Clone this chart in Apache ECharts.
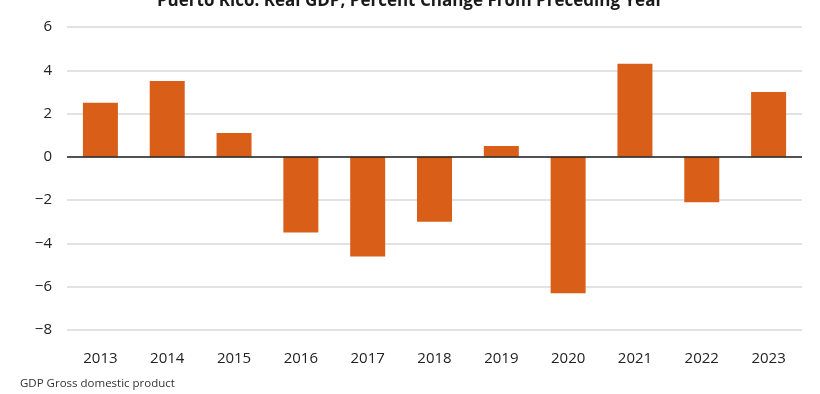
<!DOCTYPE html>
<html>
<head>
<meta charset="utf-8">
<script src="https://cdn.jsdelivr.net/npm/echarts@6/dist/echarts.min.js"></script>
<style>
html,body{margin:0;padding:0;background:#fff;}
#chart{width:820px;height:394px;}
</style>
</head>
<body>
<div id="chart"></div>
<script>
const titleText = 'Puerto Rico: Real GDP, Percent Change From Preceding Year';
const footnote = 'GDP Gross domestic product';
const years = ['2013','2014','2015','2016','2017','2018','2019','2020','2021','2022','2023'];
const gdpChange = [2.5, 3.5, 1.1, -3.5, -4.6, -3.0, 0.5, -6.3, 4.3, -2.1, 3.0];
const yTicks = { min: -8, max: 6, interval: 2 };

const chart = echarts.init(document.getElementById('chart'), null, {renderer:'canvas'});
chart.setOption({
  animation: false,
  backgroundColor: '#ffffff',
  title: {
    text: titleText,
    left: 'center',
    top: -12,
    textStyle: { fontFamily: 'Open Sans', fontWeight: 'bold', fontSize: 17, color: '#1a1a1a' }
  },
  graphic: [{
    type: 'text', left: 20, top: 378,
    style: { text: footnote, fontFamily: 'Open Sans', fontSize: 11.5, fill: '#333' }
  }],
  grid: { left: 67, right: 18, top: 27, bottom: 64 },
  xAxis: {
    type: 'category',
    data: years,
    axisLine: { show: false, onZero: false },
    axisTick: { show: false },
    axisLabel: { margin: 21, fontFamily: 'Open Sans', fontSize: 15, color: '#222' },
    splitLine: { show: false }
  },
  yAxis: {
    type: 'value',
    min: yTicks.min, max: yTicks.max, interval: yTicks.interval,
    axisLine: { show: false },
    axisTick: { show: false },
    axisLabel: {
      margin: 15, fontFamily: 'Open Sans', fontSize: 15, color: '#222',
      formatter: v => String(v).replace('-', '\u2212')
    },
    splitLine: { lineStyle: { color: '#d9d9d9', width: 1.5 } }
  },
  series: [{
    type: 'bar',
    data: gdpChange,
    barWidth: 35,
    itemStyle: { color: '#D95F18' },
    markLine: {
      silent: true, symbol: 'none', label: { show: false },
      lineStyle: { color: '#222', type: 'solid', width: 1.5 },
      data: [{ yAxis: 0 }]
    }
  }]
});
</script>
</body>
</html>
